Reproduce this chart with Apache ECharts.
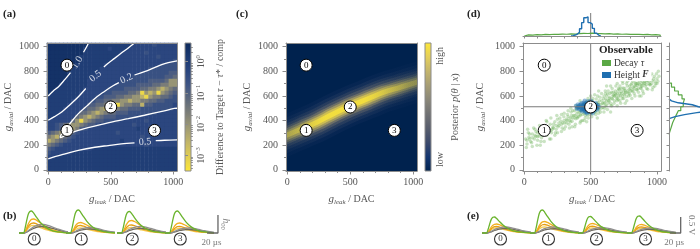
<!DOCTYPE html>
<html>
<head>
<meta charset="utf-8">
<script src="https://cdn.jsdelivr.net/npm/echarts@6.0.0/dist/echarts.min.js"></script>
<style>
html,body{margin:0;padding:0;background:#ffffff;}
#chart{width:700px;height:249px;}
</style>
</head>
<body>
<div id="chart"></div>
<script>
// ======================= DATA =======================
const dacMajorX = [0, 500, 1000];
const dacMinorX = [100, 200, 300, 400, 600, 700, 800, 900];
const dacMajorY = [0, 200, 400, 600, 800, 1000];
const dacMinorY = [100, 300, 500, 700, 900];

const markerLeak  = [150, 150, 500, 850];
const markerAxial = [850, 320, 510, 320];
const markerText  = ['0', '1', '2', '3'];

// (a) 32x32 cells, rows from top (g_axial high) to bottom, run-length "digit:count"
const heatRowsRLE = [
  '9:10,8:11,7:5,6,7:5',
  '9:9,8:6,7,8:4,7:12',
  '9:9,8:9,7:6,6,7:7',
  '9:8,8:9,7:10,6,7:4',
  '9:8,8:8,7:15,6',
  '9:7,8:7,7:14,6:4',
  '9:6,8:7,7:12,6:7',
  '9:5,8:7,7:11,6:7,5:2',
  '9:5,8:6,7:10,6:8,5:2,4',
  '9:4,8:6,7:8,6:7,5:4,4,2,2',
  '9:3,8:7,7:7,6:5,5:4,4:2,3:2,2:2',
  '9:2,8:7,7:6,6:4,5:4,4:2,3:2,2,1,2,3,4',
  '9,8:7,7:6,6:2,5:4,4:2,3,0,2,1,2,0,2,3,4,5',
  '8:8,7:4,6:2,5:3,4:2,3:2,2:2,1,0,2,3:2,4:2,5,6',
  '8:6,7:5,6,5:2,4:2,3:2,2:2,1,2:2,3:2,4:2,5:2,6:3',
  '8:5,7:5,5:2,4:2,3,2:2,0,2,3:2,4:2,1,5:2,6:5,7',
  '8:4,7:5,5,4:2,3,2,1,2:2,3,4:2,5:3,6:8,7',
  '8:3,7:5,4:2,3,2,1,2,3,4:2,5:3,6:7,7:5',
  '8:2,7:5,4,3,2,1,2,3,4,5:3,6:5,7:10',
  '7:6,4,2,0,2,3,4,5:2,6:4,7:6,6,7:7',
  '7:2,6,5,4,3,2:2,3,4,5:2,6,7:8,6,7:10',
  '7:2,6,5,4,1,2,3,5,6,7:12,8,7:9',
  '5,4,3,2:2,3,5,6,7:9,6,7:14',
  '3,2,1,3,4,5,6,7:16,6,7:8',
  '1,2,3,4,5,6,7:12,8,7:13',
  '3,4,5,6,7:20,6,7:7',
  '5,6,7:9,8:21',
  '6,7:5,8:26',
  '7:2,8:30',
  '8:32',
  '8:32',
  '8:32'
];
const heatLevelLog = [-3.2, -2.5, -2.0, -1.6, -1.25, -0.95, -0.65, -0.35, -0.05, 0.35];

// (a) contour lines (segments, gaps where labels sit)
const contour10a = [[0,600],[40,640],[82,675],[130,730],[178,790]];
const contour10b = [[282,955],[305,995],[322,1030]];
const contour05Ua = [[0,402],[50,432],[108,470],[170,525],[241,593],[300,660]];
const contour05Ub = [[445,835],[479,866],[530,905],[585,948],[640,990],[690,1030]];
const contour02a = [[1030,500],[1008,498],[900,472],[770,443],[640,415],[505,388],[370,355],[241,320],[170,294],[118,270],[96,262],[100,280],[135,325],[185,390],[241,456],[305,515],[373,579],[440,630],[505,675],[565,708]];
const contour02b = [[690,770],[770,797],[850,830],[902,852],[960,870],[1030,884]];
const contour05La = [[0,88],[60,108],[135,129],[250,160],[373,183],[480,197],[585,210],[690,218]];
const contour05Lb = [[860,236],[930,240],[1030,243]];
const contourLabelText  = ['1.0', '0.5', '0.2', '0.5'];
const contourLabelLeak  = [232, 378, 626, 775];
const contourLabelAxial = [872, 760, 740, 226];

// (c) posterior ridge (continues past both frame edges)
const ridgeLeakC  = [-80, 0, 110, 236, 360, 511, 640, 763, 890, 1030, 1110];
const ridgeAxialC = [245, 282, 331, 387, 452, 524, 577, 628, 668, 712, 735];

// (d) samples
const decaySamples = [
  [20,210],[35,265],[48,230],[60,290],[75,250],[88,310],[95,200],[110,275],[120,330],[130,260],
  [145,300],[160,350],[170,280],[185,330],[195,370],[205,300],[215,345],[230,390],[240,330],[250,410],
  [262,360],[275,395],[285,340],[298,430],[305,380],[318,410],[325,450],[336,370],[345,420],[352,470],
  [360,395],[372,440],[380,480],[388,415],[395,455],[402,500],[410,430],[418,470],[425,395],[432,510],
  [440,450],[446,485],[452,530],[458,420],[465,470],[470,505],[478,445],[485,540],[490,480],[498,515],
  [505,455],[512,560],[520,495],[528,530],[535,470],[542,575],[550,510],[556,545],[563,485],[570,590],
  [578,530],[585,560],[592,505],[600,600],[606,545],[614,575],[620,520],[628,615],[635,560],[642,590],
  [650,540],[657,630],[664,575],[672,605],[680,560],[686,640],[694,590],[700,620],[708,570],[715,655],
  [722,600],[730,635],[738,580],[745,665],[752,610],[760,645],[768,595],[775,680],[782,625],[790,655],
  [798,605],[805,690],[812,640],[820,670],[828,620],[836,705],[844,650],[852,685],[860,630],[868,720],
  [876,665],[884,700],[892,640],[900,735],[910,680],[920,715],[930,655],[940,750],[950,690],[960,725],
  [970,670],[980,760],[990,700],[1000,740],[380,350],[420,560],[500,600],[550,420],[620,680],[700,700],
  [760,540],[830,740],[880,600],[650,470],[300,330],[250,300],[200,250],[150,230],[100,240],[60,190],
  [30,300],[350,500],[470,390],[560,640],[650,680],[740,720],[900,780],[960,780],[1010,800],[700,520],
  [600,470],[530,610],[480,580],[420,380],[360,350],[330,480],[280,450],[230,280],[170,390],[120,200],
  [80,330],[10,250],[610,640],[720,560],[840,700],[940,700],[560,460],[450,400],[390,520],[660,520],
  [15,180],[25,330],[40,290],[55,220],[70,340],[85,270],[100,300],[115,360],[125,230],[140,280],
  [155,320],[165,400],[180,300],[190,250],[200,420],[210,330],[220,370],[235,300],[245,440],[255,350],
  [268,420],[280,310],[290,380],[300,460],[310,350],[322,400],[330,430],[340,340],[348,390],[356,440],
  [365,480],[375,420],[385,370],[392,500],[398,430],[405,470],[414,520],[422,440],[428,480],[436,400],
  [444,530],[450,460],[456,500],[462,440],[470,550],[476,480],[482,420],[488,560],[494,450],[502,490],
  [508,430],[516,580],[524,470],[532,510],[538,450],[546,540],[552,600],[558,500],[566,560],[574,470],
  [582,620],[588,540],[596,580],[604,500],[612,620],[618,560],[626,490],[632,640],[640,580],[646,620],
  [654,520],[662,660],[668,600],[676,540],[684,620],[690,680],[698,560],[706,640],[712,600],[720,680],
  [726,540],[734,620],[742,700],[748,580],[756,660],[764,630],[772,560],[778,720],[786,600],[794,680],
  [802,640],[810,580],[818,720],[826,660],[834,600],[842,760],[850,700],[858,660],[866,600],[874,740],
  [882,680],[890,720],[898,620],[906,700],[914,760],[922,660],[932,730],[944,690],[952,770],[964,650],
  [974,740],[984,680],[996,780],[1006,720],[1015,760],[460,540],[480,470],[520,520],[540,480],[500,540],
  [440,500],[560,530],[580,500],[600,540],[620,600],[640,560],[660,580],[680,600],[700,580],[720,620],
  [740,600],[760,620],[780,640],[800,660],[820,640],[840,680],[860,700],[880,660],[900,700],[920,690],
  [940,720],[960,700],[980,720],[1000,700],[420,450],[400,420],[380,440],[360,420],[340,400],[320,380],
  [300,400],[280,370],[260,380],[240,360],[220,340],[200,320],[180,340],[160,300],[140,320],[120,290],
  [100,270],[80,280],[60,260],[40,250],[20,240],[610,520],[630,540],[670,630],[690,610],[710,660],
  [730,660],[750,640],[770,700],[790,620],[810,700],[830,680],[850,650],[870,690],[890,680],[910,720]
];
const heightSamples = [
  [430,500],[440,520],[445,495],[450,515],[455,530],[458,490],[462,505],[465,520],[468,480],[470,500],
  [472,535],[475,510],[478,490],[480,525],[483,505],[486,515],[490,495],[492,530],[495,510],[498,485],
  [500,520],[503,500],[506,540],[510,505],[514,490],[518,515],[522,500],[526,525],[530,495],[535,510],
  [540,500],[420,510],[425,530],[412,495],[448,545],[460,470],[475,555],[488,470],[505,470],[520,545],
  [545,520],[550,490],[400,505],[435,475],[455,560],[500,560],[470,460],[515,460],[540,540],[390,520],
  [560,510],[442,508],[452,498],[466,512],[476,502],[484,518],[494,500],[508,516],[516,508],[528,512],
  [458,525],[468,495],[480,512],[490,520],[498,502],[462,488],[474,528],[486,498],[504,528],[512,496],
  [438,490],[446,530],[454,480],[464,540],[472,470],[482,545],[492,475],[502,548],[512,478],[522,532],
  [410,515],[418,525],[426,488],[432,540],[396,495],[405,530],[530,480],[536,528],[548,505],[555,525]
];
const targetLeak = 500, targetAxial = 512;

// (d) marginal histograms
const topBlueCenters = [360,376,392,408,424,440,456,472,488,504,520,536,552,568];
const topBlueValues  = [0.02,0.05,0.1,0.2,0.38,0.7,0.95,1.0,0.7,0.62,0.4,0.15,0.05,0.01];
const topGreenCenters = [16,48,80,112,144,176,208,240,272,304,336,368,400,432,464,496,528,560,592,624,656,688,720,752,784,816,848,880,912,944,976,1008];
const topGreenValues  = [0.06,0.05,0.07,0.06,0.08,0.07,0.09,0.08,0.1,0.09,0.11,0.1,0.12,0.14,0.13,0.15,0.13,0.12,0.11,0.12,0.1,0.11,0.09,0.1,0.08,0.09,0.08,0.07,0.08,0.06,0.07,0.05];
const rightBlueCenters = [424,440,456,472,488,504,520,536,552,568];
const rightBlueValues  = [0.05,0.2,0.5,0.9,1.3,1.4,0.95,0.75,0.3,0.08];
const rightGreenCenters = [304,336,368,400,432,464,496,528,560,592,624,656,688];
const rightGreenValues  = [0.04,0.08,0.12,0.18,0.24,0.3,0.38,0.46,0.5,0.42,0.3,0.18,0.08];

// (b)/(e) voltage traces: time in µs, normalized shapes, amplitudes per group
const tTrace    = [0, 8, 11, 14, 17, 20, 23, 27, 32, 38, 45, 53, 62, 72, 82, 90];
const shapeFast = [0, 0, 0.2, 0.55, 0.85, 0.98, 1.0, 0.9, 0.72, 0.52, 0.34, 0.2, 0.1, 0.05, 0.02, 0.01];
const shapeMid  = [0, 0, 0.1, 0.35, 0.65, 0.85, 0.97, 1.0, 0.92, 0.76, 0.56, 0.38, 0.23, 0.12, 0.06, 0.03];
const shapeSlow = [0, 0, 0.03, 0.12, 0.27, 0.42, 0.56, 0.72, 0.86, 0.97, 1.0, 0.9, 0.7, 0.45, 0.25, 0.12];
const ampB = {
  green: [0.88, 0.92, 0.86, 0.88],
  o1:    [0.56, 0.42, 0.50, 0.40],
  o2:    [0.40, 0.30, 0.32, 0.26],
  o3:    [0.30, 0.20, 0.22, 0.18],
  g1:    [0.34, 0.22, 0.26, 0.20],
  g2:    [0.26, 0.16, 0.18, 0.14]
};
const ampE = {
  green: [0.64, 0.92, 0.66, 0.68],
  o1:    [0.36, 0.46, 0.38, 0.34],
  o2:    [0.26, 0.34, 0.27, 0.24],
  o3:    [0.20, 0.24, 0.20, 0.18],
  g1:    [0.24, 0.24, 0.22, 0.20],
  g2:    [0.18, 0.17, 0.16, 0.15]
};
const scaleTimeLen = 20;     // µs
const scaleAmpB = 0.72;      // h00 units (normalized)
const scaleAmpE = 0.64;      // 0.5 V in normalized units

// colorbar ticks
const cbAMajor = [-3, -2, -1, 0];

// ======================= STYLE / LAYOUT =======================
const SERIF = '"Liberation Serif","DejaVu Serif",serif';
const AX = '#8c8c8c', LBL = '#555555', CROSS = '#7a7a7a';
const RANGE = [-10, 1030];
const cmapA = ['#fde737','#e2cf52','#c3b667','#a19c74','#7f8078','#5f6a7c','#3f5584','#29457e','#1a3870','#0d2a5c'];
const cividis = ['#00224e','#123570','#3b496c','#575d6d','#707173','#8a8779','#a69d75','#c4b56c','#e4cf5b','#fee838'];
const C = {green:'#6ab42d', o1:'#f2b01e', o2:'#e69f12', o3:'#f6cc55', g1:'#8f8f8f', g2:'#6f6a5e'};
const GREEN = '#5aa845', BLUE = '#1f6fb0';

const nameRich = {
  i: {fontFamily: SERIF, fontStyle: 'italic', fontSize: 11, color: LBL},
  s: {fontFamily: SERIF, fontStyle: 'italic', fontSize: 7, color: LBL, padding: [6, 0, 0, 0]},
  n: {fontFamily: SERIF, fontSize: 10, color: LBL}
};
function gName(sub) { return '{i|g}{s|' + sub + '}{n| / DAC}'; }
const plainNum = v => String(Math.round(v));

const grids = [], xAxes = [], yAxes = [], series = [];
function addGrid(g) { grids.push(g); return grids.length - 1; }
function addX(a) { xAxes.push(a); return xAxes.length - 1; }
function addY(a) { yAxes.push(a); return yAxes.length - 1; }

function rle(s) {
  const out = [];
  s.split(',').forEach(tok => {
    const p = tok.split(':'); const k = p[1] ? +p[1] : 1;
    for (let i = 0; i < k; i++) out.push(+p[0]);
  });
  return out;
}

function baseAxis(g, pos, extra) {
  return Object.assign({
    type: 'value', gridIndex: g, position: pos, min: RANGE[0], max: RANGE[1], z: 10,
    axisLine: {show: false, onZero: false, lineStyle: {color: AX, width: 1}},
    axisTick: {show: false}, axisLabel: {show: false}, splitLine: {show: false}
  }, extra || {});
}

function mainPanel(left, width, yNameGap) {
  const g = addGrid({left: left, top: 43, width: width, height: 128});
  const xb = addX(baseAxis(g, 'bottom', {
    axisLine: {show: true, onZero: false, lineStyle: {color: AX, width: 1}},
    axisTick: {show: true, customValues: dacMajorX, length: 3.5, lineStyle: {color: AX}},
    axisLabel: {show: true, customValues: dacMajorX, formatter: plainNum, color: LBL, fontFamily: SERIF, fontSize: 10, margin: 6},
    name: gName('leak'), nameLocation: 'middle', nameGap: 22, nameTextStyle: {rich: nameRich}
  }));
  addX(baseAxis(g, 'bottom', {axisTick: {show: true, customValues: dacMinorX, length: 2, lineStyle: {color: AX}}}));
  addX(baseAxis(g, 'top', {axisLine: {show: true, onZero: false, lineStyle: {color: AX, width: 1}}}));
  const yl = addY(baseAxis(g, 'left', {
    axisLine: {show: true, onZero: false, lineStyle: {color: AX, width: 1}},
    axisTick: {show: true, customValues: dacMajorY, length: 3.5, lineStyle: {color: AX}},
    axisLabel: {show: true, customValues: dacMajorY, formatter: plainNum, color: LBL, fontFamily: SERIF, fontSize: 10, margin: 8},
    name: gName('axial'), nameLocation: 'middle', nameGap: yNameGap, nameRotate: 90, nameTextStyle: {rich: nameRich}
  }));
  addY(baseAxis(g, 'left', {axisTick: {show: true, customValues: dacMinorY, length: 2, lineStyle: {color: AX}}}));
  addY(baseAxis(g, 'right', {axisLine: {show: true, onZero: false, lineStyle: {color: AX, width: 1}}}));
  return {g, xi: xb, yi: yl};
}

function addMarkers(p) {
  series.push({
    type: 'scatter', xAxisIndex: p.xi, yAxisIndex: p.yi, z: 8, silent: true,
    symbol: 'circle', symbolSize: 12,
    itemStyle: {color: '#ffffff', borderColor: '#000000', borderWidth: 1, opacity: 1},
    label: {show: true, position: 'inside', formatter: prm => markerText[prm.dataIndex],
            fontFamily: SERIF, fontSize: 9, color: '#000'},
    data: markerLeak.map((x, i) => [x, markerAxial[i]])
  });
}
function crossLine(xi, yi, pts, z) {
  series.push({type: 'line', xAxisIndex: xi, yAxisIndex: yi, data: pts, symbol: 'none', silent: true,
    z: z || 6, lineStyle: {color: CROSS, width: 1}});
}

// ---------- Panel (a) ----------
const pa = mainPanel(47, 130, 29);
const hx = addX({type: 'category', gridIndex: pa.g, show: false, data: Array.from({length: 32}, (_, i) => i)});
const hy = addY({type: 'category', gridIndex: pa.g, show: false, data: Array.from({length: 32}, (_, i) => i)});
const heatData = [];
heatRowsRLE.forEach((row, r) => {
  const cells = rle(row);
  cells.forEach((d, c) => heatData.push([c, 31 - r, heatLevelLog[d]]));
});
const heatSeriesIndex = series.length;
series.push({type: 'heatmap', xAxisIndex: hx, yAxisIndex: hy, data: heatData, silent: true, z: 1,
             itemStyle: {borderWidth: 0}, emphasis: {disabled: true}});
[contour10a, contour10b, contour05Ua, contour05Ub, contour02a, contour02b, contour05La, contour05Lb].forEach(seg => {
  series.push({type: 'line', xAxisIndex: pa.xi, yAxisIndex: pa.yi, data: seg, smooth: 0.35, symbol: 'none',
               silent: true, z: 4, lineStyle: {color: '#ffffff', width: 1.3}});
});
const contourRot = [58, 38, 24, 4];
contourLabelText.forEach((t, i) => {
  series.push({type: 'scatter', xAxisIndex: pa.xi, yAxisIndex: pa.yi, silent: true, z: 5, symbolSize: 0,
    data: [[contourLabelLeak[i], contourLabelAxial[i]]],
    label: {show: true, position: 'inside', formatter: t, rotate: contourRot[i], color: '#ffffff',
            fontFamily: SERIF, fontSize: 10}});
});
addMarkers(pa);

// colorbar helper
function colorbar(left, stops, axisExtra) {
  const g = addGrid({left: left, top: 43, width: 6, height: 128, show: true,
    backgroundColor: {type: 'linear', x: 0, y: 0, x2: 0, y2: 1,
      colorStops: stops.map((c, i) => ({offset: i / (stops.length - 1), color: c}))},
    borderColor: AX, borderWidth: 1});
  addX({type: 'value', gridIndex: g, show: false, min: 0, max: 1});
  axisExtra.forEach(a => addY(Object.assign({type: 'value', gridIndex: g, position: 'right', z: 10,
    axisLine: {show: false}, splitLine: {show: false}}, a)));
  return g;
}
const cbMinor = [];
[-4, -3, -2, -1, 0].forEach(dec => [2,3,4,5,6,7,8,9].forEach(k => {
  const v = dec + Math.log10(k); if (v > -3.5 && v < 0.6) cbMinor.push(v);
}));
colorbar(185, cmapA.slice().reverse(), [
  {min: -3.5, max: 0.6,
   axisTick: {show: true, customValues: cbAMajor, length: 3, lineStyle: {color: AX}},
   axisLabel: {show: true, customValues: cbAMajor, rotate: 90, margin: 4, color: LBL,
     formatter: v => '{b|10}{e|' + (v === 0 ? '0' : '\u2212' + Math.abs(v)) + '}',
     rich: {b: {fontFamily: SERIF, fontSize: 9.5, color: LBL}, e: {fontFamily: SERIF, fontSize: 6.5, color: LBL, padding: [0, 0, 6, 0]}}},
   name: '{n|Difference to Target }{i|\u03c4}{n| \u2212 }{i|\u03c4}{n|* / comp}', nameLocation: 'middle', nameRotate: 90, nameGap: 24,
   nameTextStyle: {rich: {n: {fontFamily: SERIF, fontSize: 10, color: LBL}, i: {fontFamily: SERIF, fontStyle: 'italic', fontSize: 10.5, color: LBL}}}},
  {min: -3.5, max: 0.6, axisTick: {show: true, customValues: cbMinor, length: 1.8, lineStyle: {color: AX}}, axisLabel: {show: false}}
]);

// ---------- Panel (c) ----------
const pc = mainPanel(286, 131, 30);
grids[pc.g].show = true; grids[pc.g].backgroundColor = '#00224e'; grids[pc.g].borderWidth = 0;
const bandLayers = [
  {w: 40, col: [30, 52, 98],   a: 0.22},
  {w: 33, col: [55, 72, 104],  a: 0.26},
  {w: 27, col: [85, 92, 106],  a: 0.3},
  {w: 22, col: [118, 116, 110], a: 0.36},
  {w: 17, col: [158, 148, 106], a: 0.45},
  {w: 13, col: [198, 182, 92],  a: 0.55},
  {w: 9,  col: [234, 212, 72],  a: 0.64},
  {w: 5,  col: [254, 232, 56],  a: 0.75}
];
// brightness along the ridge (offsets relative to x extent of the ridge polyline)
const bandProfile = [[0, 0.3], [0.07, 0.38], [0.17, 0.55], [0.33, 1.0], [0.58, 1.0], [0.72, 0.6], [0.85, 0.35], [1, 0.25]];
series.push({
  type: 'custom', xAxisIndex: pc.xi, yAxisIndex: pc.yi, silent: true, z: 3, clip: true,
  data: bandLayers.map((L, i) => [i]),
  renderItem: function (params, api) {
    const L = bandLayers[params.dataIndex];
    const pts = ridgeLeakC.map((x, i) => api.coord([x, ridgeAxialC[i]]));
    return {
      type: 'polyline',
      shape: {points: pts, smooth: 0.35},
      style: {fill: null, lineWidth: L.w, lineCap: 'butt', lineJoin: 'round',
        stroke: new echarts.graphic.LinearGradient(0, 0, 1, 0, bandProfile.map(p => ({offset: p[0],
          color: 'rgba(' + L.col.join(',') + ',' + (L.a * p[1]).toFixed(3) + ')'})))}
    };
  }
});
addMarkers(pc);
colorbar(425, cividis.slice().reverse(), [
  {min: 0, max: 1, axisTick: {show: false},
   axisLabel: {show: true, customValues: [0.09, 0.9], rotate: 90, margin: 4, color: LBL, fontFamily: SERIF, fontSize: 10,
     formatter: v => (v > 0.5 ? 'high' : 'low')},
   name: '{n|Posterior }{i|p}{n|(}{i|\u03b8}{n| | }{i|x}{n|)}', nameLocation: 'middle', nameRotate: 90, nameGap: 19,
   nameTextStyle: {rich: {n: {fontFamily: SERIF, fontSize: 10, color: LBL}, i: {fontFamily: SERIF, fontStyle: 'italic', fontSize: 10.5, color: LBL}}}}
]);

// ---------- Panel (d) ----------
const pd = mainPanel(523, 138, 36);
series.push({name: 'Decay \u03c4', type: 'scatter', xAxisIndex: pd.xi, yAxisIndex: pd.yi, silent: true, z: 3,
  symbol: 'circle', symbolSize: 3.5, itemStyle: {color: GREEN, opacity: 0.32}, data: decaySamples});
series.push({name: 'Height F', type: 'scatter', xAxisIndex: pd.xi, yAxisIndex: pd.yi, silent: true, z: 4,
  symbol: 'circle', symbolSize: 4.5, itemStyle: {color: BLUE, opacity: 0.45}, data: heightSamples});
crossLine(pd.xi, pd.yi, [[targetLeak, RANGE[0]], [targetLeak, RANGE[1]]]);
crossLine(pd.xi, pd.yi, [[RANGE[0], targetAxial], [RANGE[1], targetAxial]]);
addMarkers(pd);

function stepH(centers, values, w) { // horizontal step outline [x, v]
  const pts = [[centers[0] - w / 2, 0]];
  centers.forEach((c, i) => { pts.push([c - w / 2, values[i]]); pts.push([c + w / 2, values[i]]); });
  pts.push([centers[centers.length - 1] + w / 2, 0]);
  return pts;
}
function stepV(centers, values, w) { // vertical step outline [v, y]
  return stepH(centers, values, w).map(p => [p[1], p[0]]);
}
const margTicks = [0,100,200,300,400,500,600,700,800,900,1000];
// top marginal
const gTop = addGrid({left: 523, top: 13, width: 138, height: 23});
const xTop = addX(baseAxis(gTop, 'bottom', {
  axisLine: {show: true, onZero: false, lineStyle: {color: AX, width: 1}},
  axisTick: {show: true, customValues: margTicks, length: 2.5, lineStyle: {color: AX}}}));
const yTop = addY({type: 'value', gridIndex: gTop, min: 0, max: 1.2, show: false});
crossLine(xTop, yTop, [[targetLeak, 0], [targetLeak, 1.2]], 2);
series.push({type: 'line', xAxisIndex: xTop, yAxisIndex: yTop, data: stepH(topGreenCenters, topGreenValues, 32),
  symbol: 'none', silent: true, lineStyle: {color: GREEN, width: 1.2}, z: 3});
series.push({type: 'line', xAxisIndex: xTop, yAxisIndex: yTop, data: stepH(topBlueCenters, topBlueValues, 16),
  symbol: 'none', silent: true, lineStyle: {color: BLUE, width: 1.4}, z: 4});
// right marginal
const gRight = addGrid({left: 669, top: 43, width: 31, height: 128});
const xRight = addX({type: 'value', gridIndex: gRight, min: 0, max: 1.0, show: false});
const yRight = addY(baseAxis(gRight, 'left', {
  axisLine: {show: true, onZero: false, lineStyle: {color: AX, width: 1}},
  axisTick: {show: true, customValues: margTicks, length: 2.5, lineStyle: {color: AX}}}));
crossLine(xRight, yRight, [[0, targetAxial], [1.0, targetAxial]], 2);
series.push({type: 'line', xAxisIndex: xRight, yAxisIndex: yRight, data: stepV(rightGreenCenters, rightGreenValues, 32),
  symbol: 'none', silent: true, lineStyle: {color: GREEN, width: 1.2}, z: 3});
series.push({type: 'line', xAxisIndex: xRight, yAxisIndex: yRight, data: stepV(rightBlueCenters, rightBlueValues, 16),
  symbol: 'none', silent: true, lineStyle: {color: BLUE, width: 1.4}, z: 4});

// ---------- Panels (b) and (e): traces ----------
function traceGroup(left, amp, k, circleT) {
  const g = addGrid({left: left, top: 203, width: 49, height: 44});
  const xi = addX({type: 'value', gridIndex: g, min: 0, max: 90, show: false});
  const yi = addY({type: 'value', gridIndex: g, min: -0.56, max: 1.2, show: false});
  const curves = [[shapeMid, amp.o3[k], C.o3], [shapeMid, amp.o2[k], C.o2], [shapeMid, amp.o1[k], C.o1],
                  [shapeSlow, amp.g2[k], C.g2], [shapeSlow, amp.g1[k], C.g1], [shapeFast, amp.green[k], C.green]];
  curves.forEach(cv => {
    series.push({type: 'line', xAxisIndex: xi, yAxisIndex: yi, silent: true, z: 3, symbol: 'none', smooth: 0.3,
      data: tTrace.map((t, i) => [t, cv[0][i] * cv[1]]), lineStyle: {color: cv[2], width: 1.3}});
  });
  series.push({type: 'scatter', xAxisIndex: xi, yAxisIndex: yi, silent: true, z: 5, symbol: 'circle', symbolSize: 12,
    itemStyle: {color: '#fff', borderColor: '#000', borderWidth: 1.1},
    label: {show: true, position: 'inside', formatter: markerText[k], fontFamily: SERIF, fontSize: 9, color: '#000'},
    data: [[circleT, -0.24]]});
}
[19, 66, 117, 165].forEach((l, k) => traceGroup(l, ampB, k, 28));
[482, 530, 578, 627].forEach((l, k) => traceGroup(l, ampE, k, 34));

function scaleBar(left, width, t0, ampLen, vertLabel, vertRich, vertT) {
  const tMax = width / 49 * 90;
  const g = addGrid({left: left, top: 203, width: width, height: 44});
  const xi = addX({type: 'value', gridIndex: g, min: 0, max: tMax, show: false});
  const yi = addY({type: 'value', gridIndex: g, min: -0.56, max: 1.2, show: false});
  series.push({type: 'line', xAxisIndex: xi, yAxisIndex: yi, silent: true, symbol: 'none', clip: false,
    data: [[t0, 0], [t0 + scaleTimeLen, 0], [t0 + scaleTimeLen, ampLen]], lineStyle: {color: '#666', width: 1.3}});
  series.push({type: 'scatter', xAxisIndex: xi, yAxisIndex: yi, silent: true, symbolSize: 0,
    data: [[t0 + scaleTimeLen / 2 - 2, -0.4]],
    label: {show: true, position: 'inside', formatter: '20 \u00b5s', fontFamily: SERIF, fontSize: 9, color: LBL}});
  series.push({type: 'scatter', xAxisIndex: xi, yAxisIndex: yi, silent: true, symbolSize: 0,
    data: [[vertT, ampLen / 2]],
    label: {show: true, position: 'inside', formatter: vertLabel, rotate: -90, rich: vertRich,
            fontFamily: SERIF, fontSize: 9, color: LBL}});
}
scaleBar(200, 30, 13, scaleAmpB, '{i|h}{s|00}',
  {i: {fontFamily: SERIF, fontStyle: 'italic', fontSize: 9.5, color: LBL}, s: {fontFamily: SERIF, fontSize: 6.5, color: LBL, padding: [4, 0, 0, 0]}}, 46);
scaleBar(660, 40, 18, scaleAmpE, '0.5 V', {}, 57);

// ======================= OPTION =======================
const titleStyle = {fontFamily: SERIF, fontWeight: 'bold', fontSize: 11, color: '#222'};
const option = {
  animation: false,
  backgroundColor: '#ffffff',
  textStyle: {fontFamily: SERIF},
  title: [
    {text: '(a)', left: 3, top: 9, padding: 0, textStyle: titleStyle},
    {text: '(c)', left: 236, top: 9, padding: 0, textStyle: titleStyle},
    {text: '(d)', left: 467, top: 9, padding: 0, textStyle: titleStyle},
    {text: '(b)', left: 3, top: 211, padding: 0, textStyle: titleStyle},
    {text: '(e)', left: 467, top: 211, padding: 0, textStyle: titleStyle},
    {text: 'Observable', left: 597, top: 45, padding: [0, 2, 0, 2], backgroundColor: '#fff',
     textStyle: {fontFamily: SERIF, fontWeight: 'bold', fontSize: 11, color: '#222'}}
  ],
  legend: {
    left: 599, top: 57, orient: 'vertical', itemWidth: 9, itemHeight: 6, itemGap: 2, padding: [1, 3, 1, 3],
    backgroundColor: '#fff', selectedMode: false, icon: 'rect',
    data: [{name: 'Decay \u03c4', itemStyle: {color: GREEN, opacity: 1}},
           {name: 'Height F', itemStyle: {color: BLUE, opacity: 1}}],
    formatter: n => n === 'Height F' ? '{n|Height }{b|F}' : '{n|Decay }{i|\u03c4}',
    textStyle: {fontFamily: SERIF, fontSize: 9.5, color: '#333', padding: [0, 0, 0, -2],
      rich: {n: {fontFamily: SERIF, fontSize: 9.5, color: '#333'},
             i: {fontFamily: SERIF, fontStyle: 'italic', fontSize: 9.5, color: '#333'},
             b: {fontFamily: SERIF, fontStyle: 'italic', fontWeight: 'bold', fontSize: 9.5, color: '#333'}}}
  },
  visualMap: [{type: 'continuous', show: false, seriesIndex: heatSeriesIndex, dimension: 2,
               min: -3.5, max: 0.6, inRange: {color: cmapA}}],
  grid: grids, xAxis: xAxes, yAxis: yAxes, series: series
};
const chart = echarts.init(document.getElementById('chart'), null, {renderer: 'canvas'});
chart.setOption(option);
</script>
</body>
</html>
